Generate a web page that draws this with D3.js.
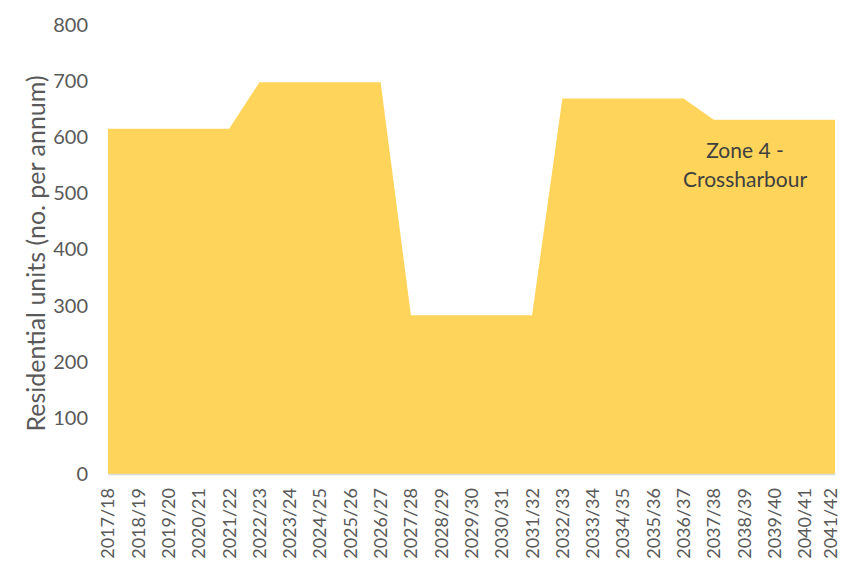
<!DOCTYPE html>
<html>
<head>
<meta charset="utf-8">
<script src="https://cdn.jsdelivr.net/npm/d3@7"></script>
<style>
  body { margin: 0; background: #fff; }
  svg text { font-family: Lato, "Open Sans", sans-serif; }
</style>
</head>
<body>
<div id="chart"></div>
<script type="text/javascript">
  const width = 843,
    height = 565;

  // data
  const years = ['2017/18', '2018/19', '2019/20', '2020/21', '2021/22', '2022/23', '2023/24', '2024/25',
    '2025/26', '2026/27', '2027/28', '2028/29', '2029/30', '2030/31', '2031/32', '2032/33', '2033/34',
    '2034/35', '2035/36', '2036/37', '2037/38', '2038/39', '2039/40', '2040/41', '2041/42'];
  const units = [615, 615, 615, 615, 615, 698, 698, 698, 698, 698, 283, 283, 283, 283, 283,
    669, 669, 669, 669, 669, 631, 631, 631, 631, 631];
  const yTicks = [0, 100, 200, 300, 400, 500, 600, 700, 800];

  const margin = {top: 25, right: 8, bottom: 91, left: 108};

  const svg = d3.select('#chart').append('svg')
    .attr('width', width)
    .attr('height', height);

  const x = d3.scalePoint()
    .domain(years)
    .range([margin.left, width - margin.right]);

  const y = d3.scaleLinear()
    .domain([0, 800])
    .range([height - margin.bottom, margin.top]);

  // the area
  const area = d3.area()
    .x(function(d, i) { return x(years[i]); })
    .y0(y(0))
    .y1(function(d) { return y(d); });

  svg.append('path')
    .datum(units)
    .attr('d', area)
    .attr('fill', '#FFD45B');

  // x axis
  const xAxis = svg.append('g')
    .attr('transform', 'translate(0,' + y(0) + ')')
    .call(d3.axisBottom(x).tickSize(0).tickPadding(0));
  xAxis.select('.domain').attr('stroke', '#d9d9d9').attr('stroke-width', 1.5);
  xAxis.selectAll('text')
    .attr('transform', 'rotate(-90)')
    .attr('x', -14)
    .attr('y', 0)
    .attr('dy', '0.33em')
    .style('text-anchor', 'end')
    .style('font-size', '18px')
    .attr('fill', '#595959');
  // keep the last label inside the page
  xAxis.selectAll('.tick').filter(function(d) { return d === years[years.length - 1]; })
    .select('text').attr('dy', '0.1em');

  // y axis
  const yAxis = svg.append('g')
    .attr('transform', 'translate(' + margin.left + ',0)')
    .call(d3.axisLeft(y).tickValues(yTicks).tickSize(0).tickPadding(20));
  yAxis.select('.domain').remove();
  yAxis.selectAll('text')
    .style('font-size', '20px')
    .attr('fill', '#595959');

  // axis title
  svg.append('text')
    .attr('transform', 'translate(45,' + ((y(0) + y(800)) / 2 + 4) + ') rotate(-90)')
    .attr('text-anchor', 'middle')
    .style('font-size', '25px')
    .attr('fill', '#595959')
    .text('Residential units (no. per annum)');

  // zone label
  const label = svg.append('text')
    .attr('text-anchor', 'middle')
    .style('font-size', '21px')
    .attr('fill', '#404040');
  label.append('tspan').attr('x', 745).attr('y', 158).text('Zone 4 -');
  label.append('tspan').attr('x', 745).attr('y', 187).text('Crossharbour');
</script>
</body>
</html>
